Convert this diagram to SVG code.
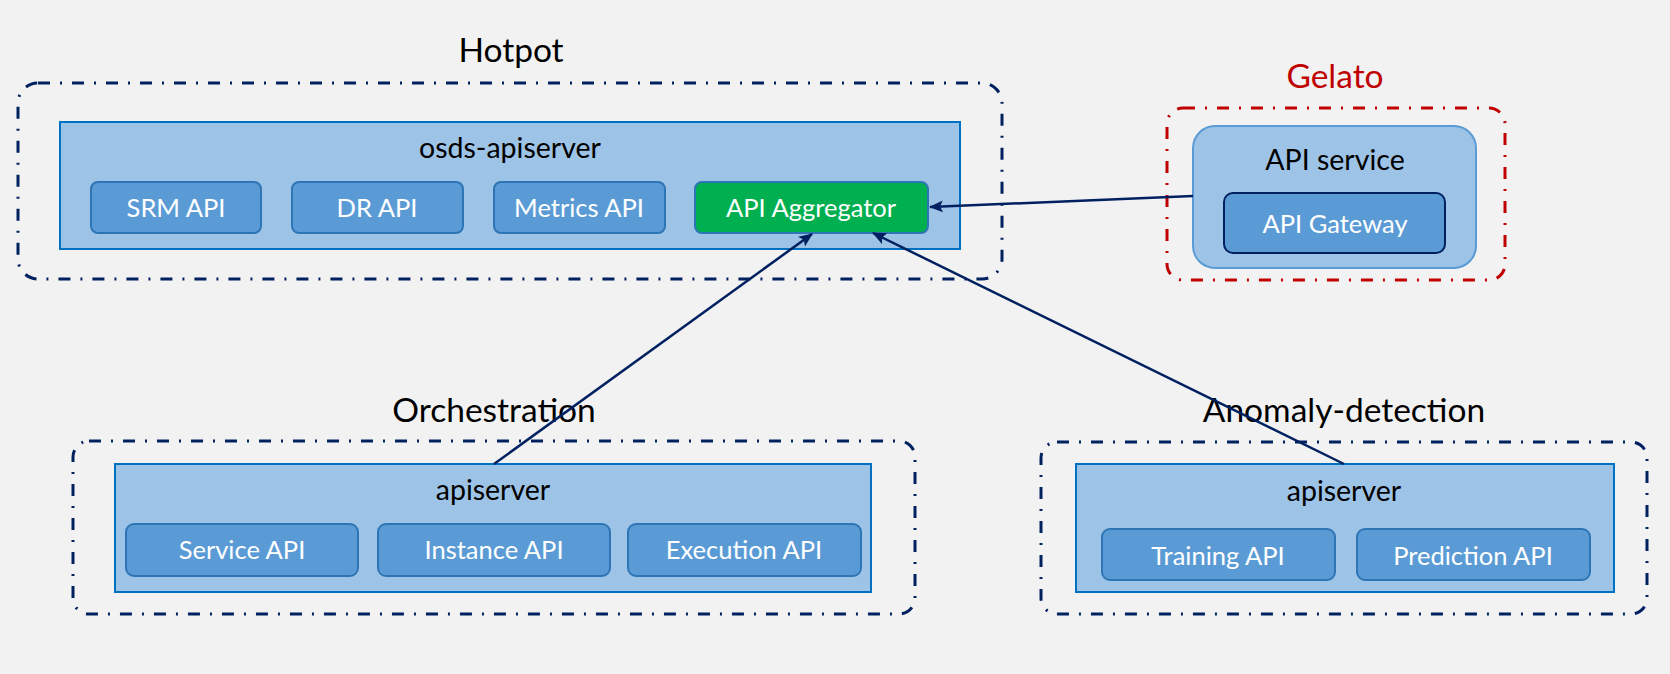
<svg xmlns="http://www.w3.org/2000/svg" width="1670" height="674" viewBox="0 0 1670 674">
<defs>
<style>
text{font-family:"Lato","Open Sans",sans-serif;text-anchor:middle}
.group{fill:none;stroke:#002060;stroke-width:3;stroke-dasharray:12 10 2 10}
.gel{fill:none;stroke:#C00000;stroke-width:3;stroke-dasharray:12 10 2 10}
.server{fill:#9DC3E6;stroke:#0070C0;stroke-width:2}
.api{fill:#5B9BD5;stroke:#2E75B6;stroke-width:2}
.agg{fill:#00B050;stroke:#2E75B6;stroke-width:2}
.title{font-size:33.5px;fill:#000}
.stitle{font-size:28.5px;fill:#000}
.lbl{font-size:25.5px;fill:#fff}
.conn{stroke:#002060;stroke-width:2.5;fill:none;marker-end:url(#ah)}
</style>
<marker id="ah" markerUnits="userSpaceOnUse" markerWidth="14" markerHeight="12" refX="13" refY="6" orient="auto">
<path d="M0,0 L14,6 L0,12 L3,6 z" fill="#002060"/>
</marker>
</defs>
<rect width="1670" height="674" fill="#F2F2F2"/>

<g id="hotpot">
<text class="title" x="511" y="62">Hotpot</text>
<rect class="group" x="18" y="83" width="984" height="196" rx="20"/>
<g id="osds-apiserver">
<rect class="server" x="60" y="122" width="900" height="127"/>
<text class="stitle" x="510" y="158">osds-apiserver</text>
</g>
<g id="srm-api"><rect class="api" x="91" y="182" width="170" height="51" rx="7"/><text class="lbl" x="176" y="217">SRM API</text></g>
<g id="dr-api"><rect class="api" x="292" y="182" width="171" height="51" rx="7"/><text class="lbl" x="377" y="217">DR API</text></g>
<g id="metrics-api"><rect class="api" x="494" y="182" width="171" height="51" rx="7"/><text class="lbl" x="579" y="217">Metrics API</text></g>
<g id="api-aggregator"><rect class="agg" x="695" y="182" width="233" height="51" rx="7"/><text class="lbl" x="811" y="217">API Aggregator</text></g>
</g>

<g id="gelato">
<text class="title" x="1335" y="88" style="fill:#C00000">Gelato</text>
<rect class="gel" x="1167" y="108" width="338" height="172" rx="16"/>
<g id="api-service">
<rect x="1193" y="126" width="283" height="142" rx="22" fill="#9DC3E6" stroke="#5B9BD5" stroke-width="2"/>
<text class="stitle" x="1335" y="170">API service</text>
</g>
<g id="api-gateway">
<rect x="1224" y="193" width="221" height="60" rx="9" fill="#5B9BD5" stroke="#002060" stroke-width="2"/>
<text class="lbl" x="1335" y="233">API Gateway</text>
</g>
</g>

<g id="orchestration">
<text class="title" x="494" y="422">Orchestration</text>
<rect class="group" x="73" y="441" width="842" height="173" rx="16"/>
<g id="orch-apiserver">
<rect class="server" x="115" y="464" width="756" height="128"/>
<text class="stitle" x="493" y="500">apiserver</text>
</g>
<g id="service-api"><rect class="api" x="126" y="524" width="232" height="52" rx="8"/><text class="lbl" x="242" y="559">Service API</text></g>
<g id="instance-api"><rect class="api" x="378" y="524" width="232" height="52" rx="8"/><text class="lbl" x="494" y="559">Instance API</text></g>
<g id="execution-api"><rect class="api" x="628" y="524" width="233" height="52" rx="8"/><text class="lbl" x="744" y="559">Execution API</text></g>
</g>

<g id="anomaly-detection">
<text class="title" x="1344" y="422">Anomaly-detection</text>
<rect class="group" x="1041" y="442" width="606" height="172" rx="16"/>
<g id="ad-apiserver">
<rect class="server" x="1076" y="464" width="538" height="128"/>
<text class="stitle" x="1344" y="501">apiserver</text>
</g>
<g id="training-api"><rect class="api" x="1102" y="529" width="233" height="51" rx="8"/><text class="lbl" x="1218" y="565">Training API</text></g>
<g id="prediction-api"><rect class="api" x="1357" y="529" width="233" height="51" rx="8"/><text class="lbl" x="1473" y="565">Prediction API</text></g>
</g>

<g id="connectors">
<line class="conn" x1="1193" y1="196" x2="930" y2="207"/>
<line class="conn" x1="494" y1="464" x2="812" y2="234"/>
<line class="conn" x1="1344" y1="464" x2="873" y2="233"/>
</g>
</svg>
